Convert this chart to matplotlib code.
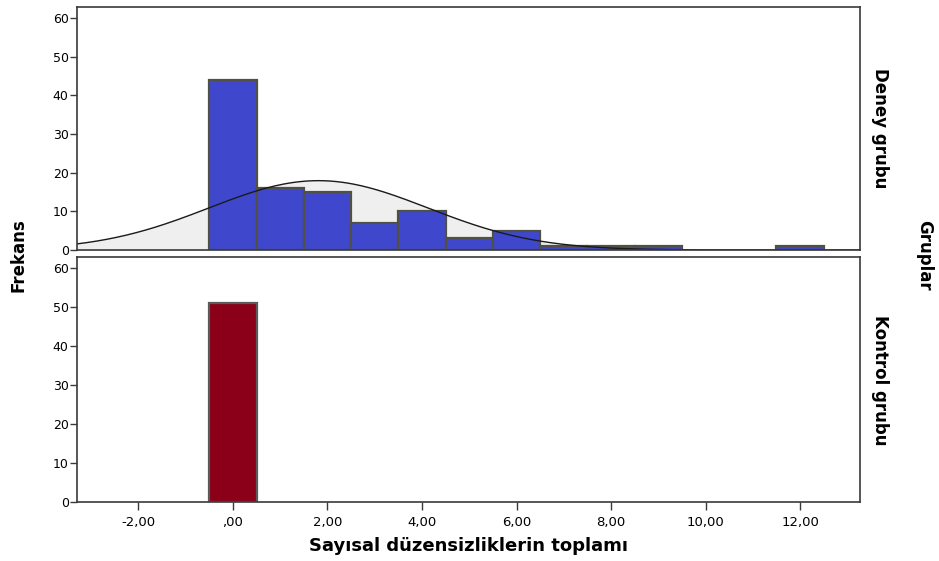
import numpy as np
import matplotlib
matplotlib.use("Agg")
import matplotlib.pyplot as plt
from matplotlib.ticker import FuncFormatter

# Data
bin_centers = [0, 1, 2, 3, 4, 5, 6, 7, 8, 9, 10, 11, 12]
deney_counts = [44, 16, 15, 7, 10, 3, 5, 1, 1, 1, 0, 0, 1]
kontrol_counts = [51, 0, 0, 0, 0, 0, 0, 0, 0, 0, 0, 0, 0]
groups = ["Deney grubu", "Kontrol grubu"]
x_ticks = [-2, 0, 2, 4, 6, 8, 10, 12]
y_ticks = [0, 10, 20, 30, 40, 50, 60]

label_font = ["DejaVu Sans"]
tick_font = ["DejaVu Sans"]

fig = plt.figure(figsize=(9.39, 5.61), dpi=100)
ax1 = fig.add_axes([0.082, 0.5544, 0.834, 0.4331])
ax2 = fig.add_axes([0.082, 0.1052, 0.834, 0.4367])

frame_col = "#3a3a3a"

def style(ax):
    ax.set_xlim(-3.30, 13.27)
    ax.set_ylim(0, 62.8)
    ax.set_yticks(y_ticks)
    for s in ax.spines.values():
        s.set_color(frame_col)
        s.set_linewidth(1.2)
        s.set_zorder(5)
    ax.tick_params(axis="y", direction="out", length=5, width=1, color=frame_col,
                   labelsize=9, pad=1)
    ax.tick_params(axis="x", direction="out", length=6, width=1, color=frame_col,
                   labelsize=9.5, pad=4)
    for lab in ax.get_yticklabels() + ax.get_xticklabels():
        lab.set_family(tick_font)

def fmt(v, p):
    s = ("%.2f" % v).replace(".", ",")
    if abs(v) < 1:
        s = s.replace("0,", ",", 1)
    return s

centers = np.array(bin_centers, dtype=float)

# Top: Deney
dc = np.array(deney_counts, dtype=float)
n = dc.sum()
mu = (centers * dc).sum() / n
sd = np.sqrt(((centers - mu) ** 2 * dc).sum() / (n - 1))
xs = np.linspace(-3.30, 13.27, 400)
ys = n * 1.0 / (sd * np.sqrt(2 * np.pi)) * np.exp(-0.5 * ((xs - mu) / sd) ** 2)
ax1.fill_between(xs, 0, ys, color="#efefef", zorder=1)
m = dc > 0
ax1.bar(centers[m], dc[m], width=1.0, color="#3f48cc", edgecolor="#505046", linewidth=1.6, zorder=2)
ax1.plot(xs, ys, color="#1a1a1a", linewidth=1.0, zorder=3)
style(ax1)
ax1.set_xticks([])

# Bottom: Kontrol
kc = np.array(kontrol_counts, dtype=float)
mk = kc > 0
ax2.bar(centers[mk], kc[mk], width=1.0, color="#8b0018", edgecolor="#5a5a5a", linewidth=1.6, zorder=2)
style(ax2)
ax2.set_xticks(x_ticks)
ax2.xaxis.set_major_formatter(FuncFormatter(fmt))
for lab in ax2.get_xticklabels():
    lab.set_family(tick_font)

# Labels
fig.text(0.020, 0.545, "Frekans", rotation=90, ha="center", va="center",
         fontsize=12, fontweight="bold", family=label_font)
fig.text(0.984, 0.545, "Gruplar", rotation=270, ha="center", va="center",
         fontsize=12, fontweight="bold", family=label_font)
fig.text(0.937, 0.771, groups[0], rotation=270, ha="center", va="center",
         fontsize=12, fontweight="bold", family=label_font)
fig.text(0.937, 0.322, groups[1], rotation=270, ha="center", va="center",
         fontsize=12, fontweight="bold", family=label_font)
fig.text(0.499, 0.027, "Sayısal düzensizliklerin toplamı", ha="center", va="center",
         fontsize=13, fontweight="bold", family=label_font)

fig.savefig("out.png", dpi=100)
